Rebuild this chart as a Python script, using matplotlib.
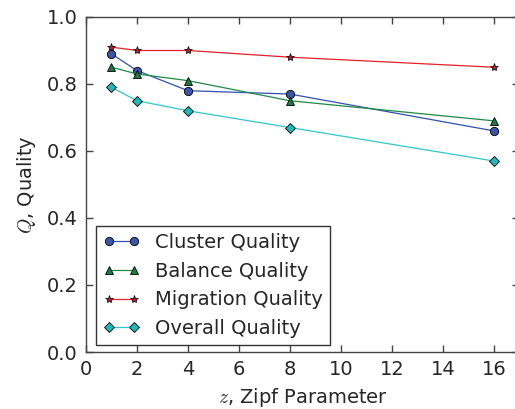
import matplotlib
matplotlib.use("Agg")
import matplotlib.pyplot as plt

# Zipf parameter values and the quality measured at each
zipf = [1, 2, 4, 8, 16]
cluster_q = [0.89, 0.84, 0.78, 0.77, 0.66]
balance_q = [0.85, 0.83, 0.81, 0.75, 0.69]
migration_q = [0.91, 0.90, 0.90, 0.88, 0.85]
overall_q = [0.79, 0.75, 0.72, 0.67, 0.57]

text_color = "#262626"
plt.rcParams["font.family"] = "DejaVu Sans"
plt.rcParams["mathtext.fontset"] = "cm"

fig = plt.figure(figsize=(5.15, 4.09), dpi=100)
ax = fig.add_axes([86 / 515, 1 - 352 / 409, (519.4 - 86) / 515, (352 - 17) / 409])

ax.plot(zipf, cluster_q, "-o", color="#3050b0", mfc="#3a56a8", mec="black",
        mew=0.6, ms=6, lw=0.9, label="Cluster Quality")
ax.plot(zipf, balance_q, "-^", color="#1e8a48", mfc="#1e7a40", mec="black",
        mew=0.6, ms=6, lw=0.9, label="Balance Quality")
ax.plot(zipf, migration_q, "-*", color="#e8202a", mfc="#b02030", mec="black",
        mew=0.5, ms=6, lw=0.9, label="Migration Quality")
ax.plot(zipf, overall_q, "-D", color="#30c8c8", mfc="#20b8b8", mec="black",
        mew=0.6, ms=5.5, lw=0.9, label="Overall Quality")

ax.set_xlim(0, 17)
ax.set_ylim(0, 1.0)
ax.set_xticks(range(0, 17, 2))
ax.set_yticks([0.0, 0.2, 0.4, 0.6, 0.8, 1.0])

for side in ["left", "bottom", "top", "right"]:
    ax.spines[side].set_color("#444444")
    ax.spines[side].set_linewidth(1.0)
ax.tick_params(direction="in", length=5, width=1, color="#444444",
               top=True, right=True, labelsize=14, labelcolor=text_color, pad=6)

ax.set_xlabel("$z$, Zipf Parameter", fontsize=14, color=text_color, labelpad=5)
ax.set_ylabel("$Q$, Quality", fontsize=14, color=text_color, labelpad=6)

leg = ax.legend(loc="lower left", numpoints=2, fontsize=14, fancybox=False,
                framealpha=1, edgecolor="#333333", borderpad=0.35,
                labelspacing=0.5, handlelength=1.9, handletextpad=0.8,
                borderaxespad=0, bbox_to_anchor=(10 / 433, 7 / 335))
for t in leg.get_texts():
    t.set_color(text_color)

fig.savefig("out.png", dpi=100)
